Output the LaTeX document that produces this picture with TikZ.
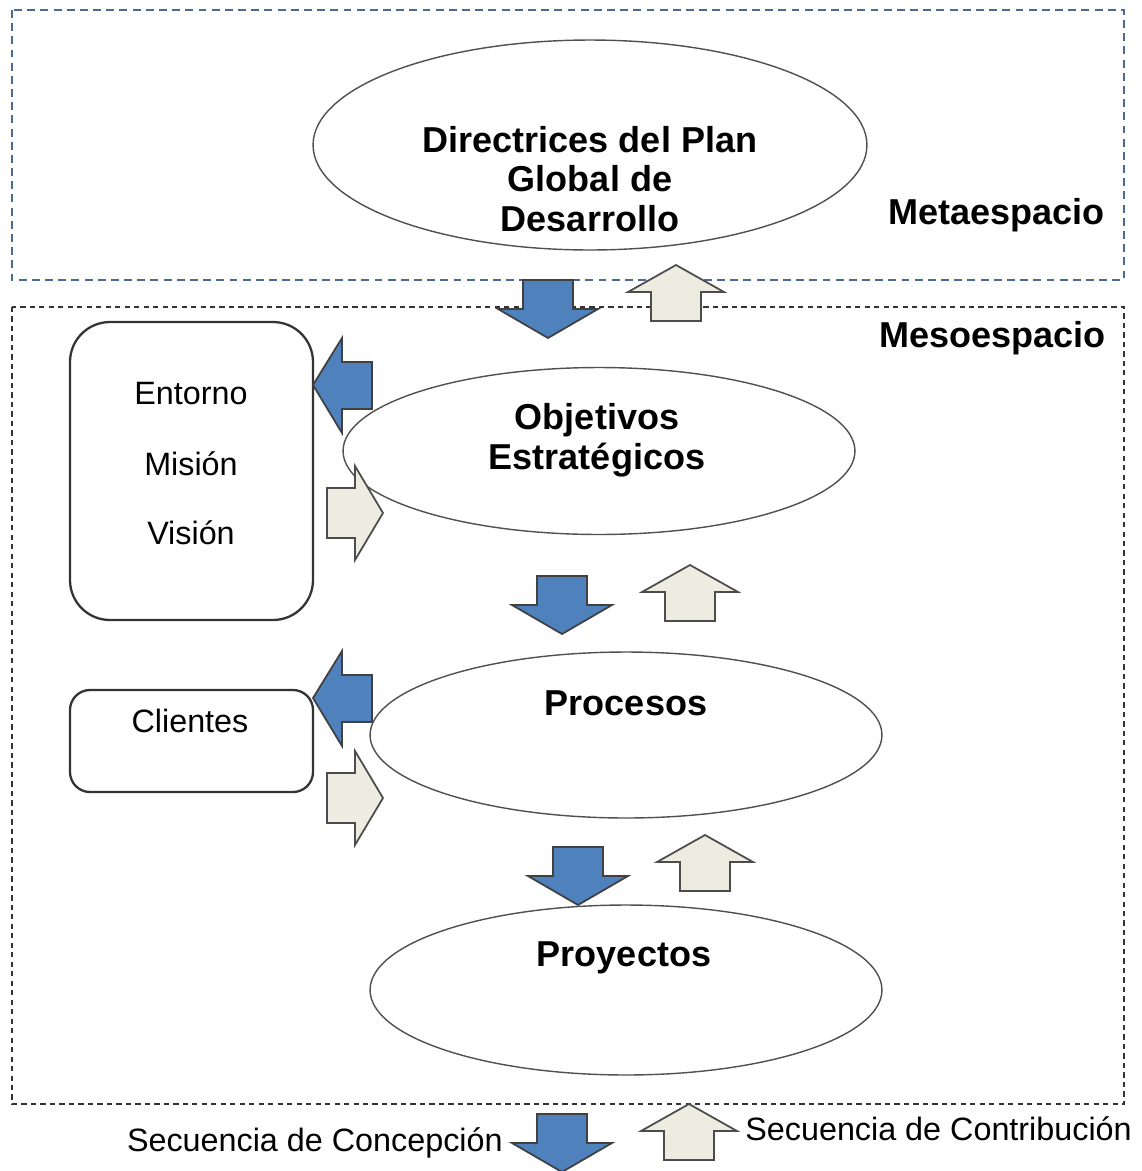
\documentclass[tikz,border=0pt]{standalone}
\usepackage{fontspec}
\setmainfont{Liberation Sans}
\usetikzlibrary{shapes.geometric}

\definecolor{blockblue}{HTML}{4F81BD}
\definecolor{blockbeige}{HTML}{EEECE1}
\definecolor{metadash}{HTML}{4A6A95}
\definecolor{edgegray}{HTML}{505050}

\tikzset{
  metaframe/.style={draw=metadash, line width=1.3pt, dash pattern=on 4.5pt off 3pt},
  mesoframe/.style={draw=black!80, line width=1pt, dash pattern=on 3pt off 2.4pt},
  bubble/.style={ellipse, draw=edgegray, line width=0.8pt, inner sep=0pt},
  sidebox/.style={draw=black!80, line width=1.3pt, inner sep=0pt},
  bigtitle/.style={font=\bfseries\fontsize{20.5}{22.7}\selectfont, align=center, inner sep=0pt},
  plainlabel/.style={font=\fontsize{18.4}{21}\selectfont, inner sep=0pt},
  bluearrow/.style={fill=blockblue, draw=black!75, line width=1pt, line join=miter},
  beigearrow/.style={fill=blockbeige, draw=black!70, line width=1pt, line join=miter},
}

% block arrows: centre x (or y) and starting edge, in pixel units
\newcommand\blockdown[3][bluearrow]{%
  \draw[#1] ({#2-25},#3) -- ({#2+25},#3) -- ({#2+25},{#3+29}) -- ({#2+50},{#3+29})
    -- (#2,{#3+58}) -- ({#2-50},{#3+29}) -- ({#2-25},{#3+29}) -- cycle;}
\newcommand\blockup[3][beigearrow]{%
  \draw[#1] (#2,#3) -- ({#2+48},{#3+27}) -- ({#2+25},{#3+27}) -- ({#2+25},{#3+56})
    -- ({#2-25},{#3+56}) -- ({#2-25},{#3+27}) -- ({#2-48},{#3+27}) -- cycle;}
\newcommand\blockleft[3][bluearrow]{%
  \draw[#1] (#2,#3) -- ({#2+29},{#3-47}) -- ({#2+29},{#3-23}) -- ({#2+59},{#3-23})
    -- ({#2+59},{#3+24}) -- ({#2+29},{#3+24}) -- ({#2+29},{#3+48}) -- cycle;}
\newcommand\blockright[3][beigearrow]{%
  \draw[#1] (#2,{#3-25}) -- ({#2+28},{#3-25}) -- ({#2+28},{#3-47}) -- ({#2+56},#3)
    -- ({#2+28},{#3+47}) -- ({#2+28},{#3+25}) -- (#2,{#3+25}) -- cycle;}

\begin{document}
\begin{tikzpicture}[x=0.02cm, y=-0.02cm]
  \useasboundingbox[fill=white] (0,0) rectangle (1142,1171);

  % the two spaces
  \draw[metaframe] (12,10) rectangle (1124,280);
  \draw[mesoframe] (12,307) rectangle (1124,1104);
  \node[bigtitle, anchor=east] (meta) at (1105,215) {Metaespacio};
  \node[bigtitle, anchor=east] (meso) at (1106,338) {Mesoespacio};

  % planning levels
  \node[bubble, minimum width=11.08cm, minimum height=4.2cm] (plan) at (590,145) {};
  \node[bubble, minimum width=10.24cm, minimum height=3.34cm] (obj) at (599,451) {};
  \node[bubble, minimum width=10.24cm, minimum height=3.32cm] (proc) at (626,735) {};
  \node[bubble, minimum width=10.24cm, minimum height=3.4cm] (proy) at (626,990) {};

  \node[bigtitle] (planlbl) at (590,179) {Directrices del Plan\\Global de\\Desarrollo};
  \node[bigtitle] (objlbl) at (597,440) {Objetivos\\Estratégicos};
  \node[bigtitle] (proclbl) at (626,703) {Procesos};
  \node[bigtitle] (proylbl) at (624,958) {Proyectos};

  % context boxes
  \draw[sidebox, rounded corners=0.8cm] (70,322) rectangle (313,620);
  \node[plainlabel] (entorno) at (191,394) {Entorno};
  \node[plainlabel] (mision) at (191,464) {Misión};
  \node[plainlabel] (vision) at (191,533) {Visión};
  \draw[sidebox, rounded corners=0.4cm] (70,690) rectangle (313,792);
  \node[plainlabel] (clientes) at (190,721) {Clientes};

  % conception sequence (down) and contribution sequence (up)
  \blockdown{548}{280}
  \blockup{676}{265}
  \blockdown{562}{576}
  \blockup{690}{565}
  \blockdown{578}{847}
  \blockup{705}{835}

  % exchange with the context boxes
  \blockleft{313}{385}
  \blockright{327}{513}
  \blockleft{313}{698}
  \blockright{327}{798}

  % legend
  \blockdown{562}{1114}
  \blockup{689}{1104}
  \node[plainlabel, anchor=east] (leg1) at (503,1143) {Secuencia de Concepción};
  \node[plainlabel, anchor=west] (leg2) at (745,1129) {Secuencia de Contribución};
\end{tikzpicture}
\end{document}
